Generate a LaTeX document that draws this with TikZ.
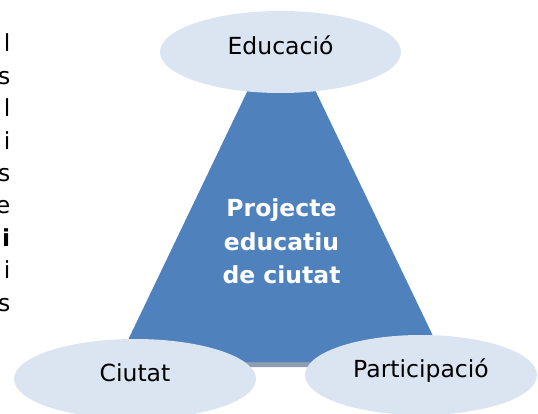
\documentclass[tikz,border=0pt]{standalone}
\usepackage{fontspec}
\setmainfont{DejaVu Sans}
\usepackage{tikz}
\usetikzlibrary{shapes}
\definecolor{ellfill}{HTML}{DBE5F1}
\definecolor{trifill}{HTML}{4F81BD}
\definecolor{trishade}{HTML}{8E9DB1}
\tikzstyle{cloud}=[ellipse,fill=ellfill,inner sep=0pt,text height=17pt,text depth=12pt,minimum height=80pt]
\tikzstyle{cut}=[anchor=base east,inner sep=0pt]

\begin{document}
\begin{tikzpicture}[x=1pt,y=-1pt,font=\fontsize{23.5}{28}\selectfont]
	\clip (0,0) rectangle (538,414);
	% letters of the text beside the picture
	\foreach \ch [count=\k] in {l,s,l,i,s,e,\textbf{i},i,s}
		\node[cut] (txt\k) at (10.5,{52+32.4*(\k-1)}) {\ch};
	
	\fill[trishade] (281.5,25) -- (117.5,367) -- (445.5,367) -- cycle;
	\fill[trifill] (281.5,20) -- (117.5,362) -- (445.5,362) -- cycle;
	\node[text=white,align=center,font=\fontsize{23.5}{33.5}\selectfont\bfseries] (proj) at (281.5,241.5) {Projecte\\educatiu\\de ciutat};
	
	\node[cloud,minimum width=241pt,minimum height=82pt] (edu) at (280.5,52) {Educació};
	\node[cloud,minimum width=242pt] (ciutat) at (135,379) {Ciutat};
	\node[cloud,minimum width=232pt] (part) at (421,375) {Participació};
\end{tikzpicture}
\end{document}
